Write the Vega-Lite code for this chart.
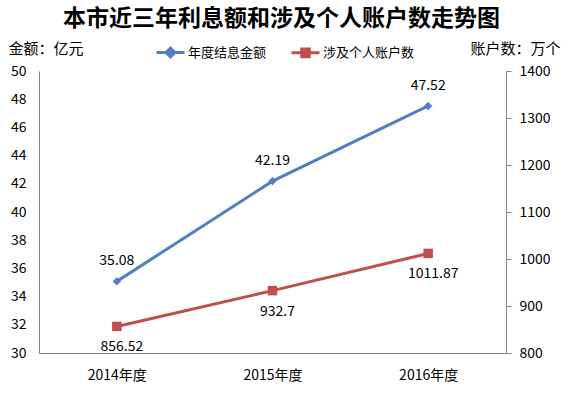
{
  "$schema": "https://vega.github.io/schema/vega-lite/v6.json",
  "width": 467,
  "height": 282,
  "autosize": "none",
  "padding": {"left": 39, "top": 71, "right": 69, "bottom": 43},
  "background": "white",
  "title": {
    "text": "本市近三年利息额和涉及个人账户数走势图",
    "anchor": "middle",
    "frame": "group",
    "dx": 9,
    "dy": -2,
    "fontSize": 23,
    "fontWeight": "bold",
    "font": "Noto Sans CJK SC",
    "color": "#000000"
  },
  "config": {
    "view": {"stroke": null},
    "font": "Noto Sans CJK SC",
    "axis": {
      "grid": false,
      "domainColor": "#868686",
      "tickColor": "#868686",
      "labelColor": "#000000",
      "labelFontSize": 14,
      "labelFont": "Noto Sans CJK SC",
      "titleFontSize": 15,
      "titleFont": "Noto Sans CJK SC",
      "titleFontWeight": "normal",
      "titleColor": "#000000"
    }
  },
  "data": {
    "values": [
      {"year": "2014年度", "amount": 35.08, "accounts": 856.52},
      {"year": "2015年度", "amount": 42.19, "accounts": 932.7},
      {"year": "2016年度", "amount": 47.52, "accounts": 1011.87}
    ]
  },
  "encoding": {
    "x": {
      "field": "year",
      "type": "ordinal",
      "scale": {"type": "point", "padding": 0.5},
      "axis": {"title": null, "labelAngle": 0, "ticks": false, "tickSize": 0, "labelPadding": 15}
    }
  },
  "layer": [
    {
      "encoding": {
        "y": {
          "field": "amount",
          "type": "quantitative",
          "scale": {"domain": [30, 50], "nice": false, "zero": false},
          "axis": {
            "values": [30, 32, 34, 36, 38, 40, 42, 44, 46, 48, 50],
            "ticks": false,
            "tickSize": 0,
            "labelPadding": 13,
            "title": "金额：亿元",
            "titleAngle": 0,
            "titleAlign": "left",
            "titleBaseline": "middle",
            "titleX": -31,
            "titleY": -23
          }
        }
      },
      "layer": [
        {
          "mark": {"type": "line", "strokeWidth": 3, "point": {"shape": "diamond", "size": 70, "filled": true}},
          "encoding": {
            "color": {
              "datum": "年度结息金额",
              "type": "nominal",
              "scale": {"domain": ["年度结息金额", "涉及个人账户数"], "range": ["#4F81BD", "#C0504D"]},
              "legend": {
                "title": null,
                "orient": "none",
                "direction": "horizontal",
                "legendX": 116,
                "legendY": -34,
                "labelFontSize": 13,
                "labelFont": "Noto Sans CJK SC",
                "labelColor": "#000000",
                "labelOffset": 2,
                "columnPadding": 18,
                "symbolSize": 784,
                "symbolStrokeWidth": 3,
                "encode": {
                  "symbols": {
                    "update": {
                      "shape": {"signal": "datum.value === '年度结息金额' ? 'M-1,0H1M-0.32,0L0,-0.32L0.32,0L0,0.32Z' : 'M-1,0H1M-0.27,-0.27H0.27V0.27H-0.27Z'"},
                      "fill": {"signal": "datum.value === '年度结息金额' ? '#4F81BD' : '#C0504D'"},
                      "stroke": {"signal": "datum.value === '年度结息金额' ? '#4F81BD' : '#C0504D'"},
                      "strokeWidth": {"value": 3}
                    }
                  }
                }
              }
            }
          }
        },
        {
          "mark": {"type": "text", "dy": -20, "fontSize": 14, "color": "#000000"},
          "encoding": {"text": {"field": "amount", "type": "nominal"}}
        }
      ]
    },
    {
      "encoding": {
        "y": {
          "field": "accounts",
          "type": "quantitative",
          "scale": {"domain": [800, 1400], "nice": false, "zero": false},
          "axis": {
            "orient": "right",
            "values": [800, 900, 1000, 1100, 1200, 1300, 1400],
            "format": "d",
            "ticks": true,
            "tickSize": 5,
            "labelPadding": 8,
            "title": "账户数：万个",
            "titleAngle": 0,
            "titleAlign": "left",
            "titleBaseline": "middle",
            "titleX": -36,
            "titleY": -23
          }
        }
      },
      "layer": [
        {
          "mark": {"type": "line", "strokeWidth": 3, "point": {"shape": "square", "size": 90, "filled": true}},
          "encoding": {
            "color": {"datum": "涉及个人账户数", "type": "nominal"}
          }
        },
        {
          "mark": {"type": "text", "dy": 21, "dx": 5, "fontSize": 14, "color": "#000000"},
          "encoding": {"text": {"field": "accounts", "type": "nominal"}}
        }
      ]
    }
  ],
  "resolve": {"scale": {"y": "independent"}}
}
